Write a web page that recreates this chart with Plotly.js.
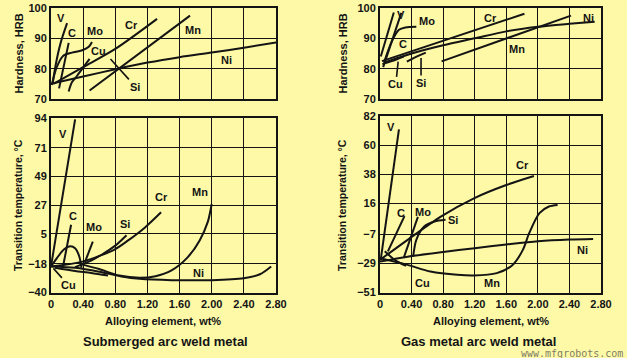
<!DOCTYPE html>
<html>
<head>
<meta charset="utf-8">
<script src="https://cdn.plot.ly/plotly-3.0.1.min.js"></script>
<style>html,body{margin:0;padding:0;background:#fdf9a7;}#chart{width:627px;height:358px;}</style>
</head>
<body>
<div id="chart"></div>
<script>
// ---------- tick labels ----------
const xTickVals = [0, 0.4, 0.8, 1.2, 1.6, 2.0, 2.4, 2.8];
const xTickText = ['0', '0.40', '0.80', '1.20', '1.60', '2.00', '2.40', '2.80'];
const hrbTickVals = [70, 80, 90, 100];
const sawTempTickVals = [-40, -18, 5, 27, 49, 71, 94];
const gmaTempTickVals = [-51, -29, -7, 16, 38, 60, 82];

// ---------- Submerged arc: hardness (HRB) ----------
const sawHrbVx = [0.02, 0.06, 0.12, 0.2],  sawHrbVy = [75, 81.5, 88.5, 95];
const sawHrbCx = [0.1, 0.22],              sawHrbCy = [73.5, 88.5];
const sawHrbMox = [0.01, 0.07, 0.15, 0.26, 0.38, 0.47, 0.51], sawHrbMoy = [74.6, 80.4, 84.2, 85.3, 86.0, 87.2, 88.8];
const sawHrbCux = [0.22, 0.26, 0.32, 0.48], sawHrbCuy = [72.5, 75.5, 77.5, 83.2];
const sawHrbCrx = [0.03, 0.4, 0.8, 1.32],  sawHrbCry = [75, 80.5, 86.5, 96.4];
const sawHrbMnx = [0.48, 1.73],            sawHrbMny = [72.8, 97.5];
const sawHrbNix = [0, 0.4, 0.8, 1.2, 1.6, 2.0, 2.4, 2.8], sawHrbNiy = [75, 77.4, 79.8, 82, 83.8, 85.3, 86.9, 88.6];

// ---------- Submerged arc: transition temperature (°C) ----------
const sawTtVx = [0, 0.3],                   sawTtVy = [-20, 93];
const sawTtCx = [0.15, 0.25],               sawTtCy = [-20, 12];
const sawTtC2x = [0, 0.08, 0.16, 0.24, 0.3, 0.35, 0.38], sawTtC2y = [-20, -13, -7, -4.5, -6, -12, -21];
const sawTtCux = [0.05, 0.3, 0.5, 0.71],    sawTtCuy = [-21, -23.5, -25, -27];
const sawTtMox = [0.42, 0.52],              sawTtMoy = [-17, -1];
const sawTtSix = [0.3, 0.5, 0.63, 0.8, 0.94], sawTtSiy = [-20.5, -15.5, -11, -4, 4];
const sawTtCrx = [0, 0.38, 0.79, 0.96, 1.17, 1.37], sawTtCry = [-20, -16.5, -7, 0, 10, 21.6];
const sawTtMnx = [0.36, 0.6, 0.85, 1.1, 1.3, 1.5, 1.7, 1.85, 1.95, 2.0], sawTtMny = [-18, -22, -27, -28.7, -27.5, -23, -13, 0, 14, 28];
const sawTtNix = [0, 0.3, 0.6, 0.9, 1.1, 1.5, 2.0, 2.4, 2.6, 2.74], sawTtNiy = [-20, -21, -24, -28, -29.5, -30.5, -30.5, -29, -26, -20];

// ---------- Gas metal arc: hardness (HRB) ----------
const gmaHrbVx = [0.01, 0.175],            gmaHrbVy = [84, 98.5];
const gmaHrbCx = [0.04, 0.27],             gmaHrbCy = [80.5, 98.4];
const gmaHrbMox = [0.05, 0.15, 0.24, 0.32, 0.46], gmaHrbMoy = [82, 89, 92.8, 93.6, 93.8];
const gmaHrbCrx = [0.025, 1.83],           gmaHrbCry = [82.5, 98.1];
const gmaHrbNix = [0.05, 0.4, 0.8, 1.2, 1.6, 2.0, 2.4, 2.72], gmaHrbNiy = [82, 85, 87.7, 90, 92.3, 93.8, 94.8, 95.5];
const gmaHrbMnx = [0.78, 2.42],            gmaHrbMny = [82.4, 97.5];
const gmaHrbSix = [0.34, 0.45, 0.58],      gmaHrbSiy = [82.3, 83.8, 85.3];
const gmaHrbCux = [0.03, 0.15, 0.3],       gmaHrbCuy = [81.5, 82.5, 84];

// ---------- Gas metal arc: transition temperature (°C) ----------
const gmaTtVx = [0.01, 0.24],              gmaTtVy = [-26, 72];
const gmaTtCx = [0.1, 0.31],               gmaTtCy = [-20, 6.5];
const gmaTtMox = [0.3, 0.48],              gmaTtMoy = [-25, 6];
const gmaTtSix = [0.42, 0.46, 0.56, 0.69, 0.83], gmaTtSiy = [-24, -11.3, -1.3, 2.5, 3.8];
const gmaTtCrx = [0, 0.35, 0.77, 1.19, 1.6, 1.95], gmaTtCry = [-26.4, -11.3, 6.2, 20, 30, 36.8];
const gmaTtMnx = [0, 0.35, 0.64, 0.98, 1.19, 1.48, 1.68, 1.81, 1.89, 2.02, 2.14, 2.25];
const gmaTtMny = [-25.2, -30.2, -35.2, -37.7, -38.2, -36.4, -30.2, -18.9, -6.3, 8.8, 13.8, 15];
const gmaTtNix = [0, 0.35, 0.8, 1.2, 1.6, 2.0, 2.4, 2.7], gmaTtNiy = [-27.7, -24, -20.5, -17.6, -14.8, -12.3, -11, -10.6];
const gmaTtCux = [0.06, 0.2, 0.33],        gmaTtCuy = [-20, -27, -31];

// ---------- build traces ----------
const INK = '#141414';
function line(x, y, xa, ya, name, smooth) {
  return {x: x, y: y, xaxis: xa, yaxis: ya, name: name, type: 'scatter', mode: 'lines',
          line: {color: INK, width: 2, shape: smooth ? 'spline' : 'linear', smoothing: 0.8},
          hoverinfo: 'skip', showlegend: false};
}
const traces = [
  line(sawHrbVx, sawHrbVy, 'x', 'y', 'V', true),
  line(sawHrbCx, sawHrbCy, 'x', 'y', 'C'),
  line(sawHrbMox, sawHrbMoy, 'x', 'y', 'Mo', true),
  line(sawHrbCux, sawHrbCuy, 'x', 'y', 'Cu', true),
  line(sawHrbCrx, sawHrbCry, 'x', 'y', 'Cr', true),
  line(sawHrbMnx, sawHrbMny, 'x', 'y', 'Mn'),
  line(sawHrbNix, sawHrbNiy, 'x', 'y', 'Ni', true),

  line(sawTtVx, sawTtVy, 'x2', 'y2', 'V'),
  line(sawTtCx, sawTtCy, 'x2', 'y2', 'C'),
  line(sawTtC2x, sawTtC2y, 'x2', 'y2', 'C', true),
  line(sawTtCux, sawTtCuy, 'x2', 'y2', 'Cu', true),
  line(sawTtMox, sawTtMoy, 'x2', 'y2', 'Mo'),
  line(sawTtSix, sawTtSiy, 'x2', 'y2', 'Si', true),
  line(sawTtCrx, sawTtCry, 'x2', 'y2', 'Cr', true),
  line(sawTtMnx, sawTtMny, 'x2', 'y2', 'Mn', true),
  line(sawTtNix, sawTtNiy, 'x2', 'y2', 'Ni', true),

  line(gmaHrbVx, gmaHrbVy, 'x3', 'y3', 'V'),
  line(gmaHrbCx, gmaHrbCy, 'x3', 'y3', 'C'),
  line(gmaHrbMox, gmaHrbMoy, 'x3', 'y3', 'Mo', true),
  line(gmaHrbCrx, gmaHrbCry, 'x3', 'y3', 'Cr'),
  line(gmaHrbNix, gmaHrbNiy, 'x3', 'y3', 'Ni', true),
  line(gmaHrbMnx, gmaHrbMny, 'x3', 'y3', 'Mn'),
  line(gmaHrbSix, gmaHrbSiy, 'x3', 'y3', 'Si', true),
  line(gmaHrbCux, gmaHrbCuy, 'x3', 'y3', 'Cu', true),

  line(gmaTtVx, gmaTtVy, 'x4', 'y4', 'V'),
  line(gmaTtCx, gmaTtCy, 'x4', 'y4', 'C'),
  line(gmaTtMox, gmaTtMoy, 'x4', 'y4', 'Mo'),
  line(gmaTtSix, gmaTtSiy, 'x4', 'y4', 'Si', true),
  line(gmaTtCrx, gmaTtCry, 'x4', 'y4', 'Cr', true),
  line(gmaTtMnx, gmaTtMny, 'x4', 'y4', 'Mn', true),
  line(gmaTtNix, gmaTtNiy, 'x4', 'y4', 'Ni', true),
  line(gmaTtCux, gmaTtCuy, 'x4', 'y4', 'Cu', true)
];

// ---------- layout ----------
const FONT = 'Liberation Sans, Arial, Helvetica, sans-serif';
const tickFont = {family: FONT, size: 11, color: INK, weight: 'bold'};
function xAx(domain, labels, anchor) {
  return {domain: domain, range: [0, 2.8], anchor: anchor, tickmode: 'array', tickvals: xTickVals,
          ticktext: xTickText, showticklabels: labels, ticks: '', showgrid: true, gridcolor: INK,
          gridwidth: 1, zeroline: false, showline: true, linecolor: INK, linewidth: 2, mirror: true,
          tickfont: tickFont, fixedrange: true};
}
function yAx(domain, range, vals, anchor) {
  return {domain: domain, range: range, anchor: anchor, tickmode: 'array', tickvals: vals,
          ticktext: vals.map(v => String(v).replace('-', '\u2212')), ticks: '', showgrid: true,
          gridcolor: INK, gridwidth: 1, zeroline: false, showline: true, linecolor: INK,
          linewidth: 2, mirror: true, tickfont: tickFont, fixedrange: true};
}
const LX = [51/627, 276/627], RX = [380/627, 601/627];
const TOPY = [1 - 99/358, 1 - 8/358];
const BOTL = [1 - 292.5/358, 1 - 118/358], BOTR = [1 - 292.5/358, 1 - 116/358];

function lab(text, x, y, xr, yr) {
  return {text: text, x: x, y: y, xref: xr, yref: yr, showarrow: false,
          font: {family: FONT, size: 11, color: INK, weight: 'bold'}};
}
function leader(text, x, y, ax, ay, xr, yr) {
  return {text: text, x: x, y: y, ax: ax, ay: ay, xref: xr, yref: yr, axref: xr, ayref: yr,
          showarrow: true, arrowhead: 0, arrowwidth: 1.6, arrowcolor: INK, standoff: 0,
          font: {family: FONT, size: 11, color: INK, weight: 'bold'}};
}
function ptxt(text, x, y, size, angle, extra) {
  return Object.assign({text: text, x: x, y: y, xref: 'paper', yref: 'paper', showarrow: false,
          textangle: angle || 0, xanchor: 'center', yanchor: 'middle',
          font: {family: FONT, size: size, color: INK, weight: 'bold'}}, extra || {});
}

const annotations = [
  // SAW hardness
  lab('V', 0.13, 96.7, 'x', 'y'), lab('C', 0.26, 91.7, 'x', 'y'), lab('Mo', 0.55, 92.3, 'x', 'y'),
  lab('Cu', 0.59, 85.7, 'x', 'y'), lab('Cr', 1.0, 94.5, 'x', 'y'), lab('Mn', 1.77, 92.8, 'x', 'y'),
  lab('Ni', 2.19, 82.9, 'x', 'y'),
  leader('Si', 0.74, 83.2, 1.05, 74.1, 'x', 'y'),
  // SAW transition
  lab('V', 0.15, 82, 'x2', 'y2'), lab('C', 0.27, 19, 'x2', 'y2'), lab('Mo', 0.54, 10, 'x2', 'y2'),
  lab('Si', 0.92, 12.6, 'x2', 'y2'), lab('Cr', 1.38, 33, 'x2', 'y2'), lab('Mn', 1.86, 37, 'x2', 'y2'),
  lab('Ni', 1.83, -24.7, 'x2', 'y2'),
  leader('Cu', 0.03, -21.5, 0.22, -34.5, 'x2', 'y2'),
  // GMA hardness
  lab('V', 0.27, 97.6, 'x3', 'y3'), lab('Mo', 0.6, 95.7, 'x3', 'y3'), lab('C', 0.29, 88, 'x3', 'y3'),
  lab('Cr', 1.4, 96.7, 'x3', 'y3'), lab('Ni', 2.64, 96.7, 'x3', 'y3'), lab('Mn', 1.74, 86.4, 'x3', 'y3'),
  leader('Cu', 0.23, 82.3, 0.2, 74.8, 'x3', 'y3'),
  leader('Si', 0.52, 83.5, 0.52, 75.3, 'x3', 'y3'),
  // GMA transition
  lab('V', 0.14, 74, 'x4', 'y4'), lab('C', 0.27, 9, 'x4', 'y4'), lab('Mo', 0.55, 10, 'x4', 'y4'),
  lab('Si', 0.92, 3.7, 'x4', 'y4'), lab('Cr', 1.81, 45, 'x4', 'y4'), lab('Ni', 2.57, -19, 'x4', 'y4'),
  lab('Mn', 1.42, -44, 'x4', 'y4'), lab('Cu', 0.54, -44, 'x4', 'y4'),
  // axis titles
  ptxt('Hardness, HRB', 18/627, 1 - 53.5/358, 11, -90),
  ptxt('Transition temperature, \u00b0C', 18/627, 1 - 205/358, 10.5, -90),
  ptxt('Hardness, HRB', 342/627, 1 - 53.5/358, 11, -90),
  ptxt('Transition temperature, \u00b0C', 342/627, 1 - 205/358, 10.5, -90),
  ptxt('Alloying element, wt%', 163/627, 1 - 321/358, 11, 0),
  ptxt('Alloying element, wt%', 491/627, 1 - 321/358, 11, 0),
  ptxt('Submerged arc weld metal', 166/627, 1 - 341/358, 13, 0),
  ptxt('Gas metal arc weld metal', 478/627, 1 - 341/358, 13, 0),
  ptxt('www.mfgrobots.com', 572/627, 1 - 353/358, 10, 0,
       {font: {family: 'DejaVu Sans Mono, monospace', size: 10, color: 'rgba(80,80,80,0.75)'}})
];

const layout = {
  width: 627, height: 358, margin: {l: 0, r: 0, t: 0, b: 0},
  paper_bgcolor: '#fdf9a7', plot_bgcolor: '#fdf9a7', showlegend: false,
  xaxis: xAx(LX, false, 'y'), yaxis: yAx(TOPY, [70, 100], hrbTickVals, 'x'),
  xaxis2: xAx(LX, true, 'y2'), yaxis2: yAx(BOTL, [-40, 94], sawTempTickVals, 'x2'),
  xaxis3: xAx(RX, false, 'y3'), yaxis3: yAx(TOPY, [70, 100], hrbTickVals, 'x3'),
  xaxis4: xAx(RX, true, 'y4'), yaxis4: yAx(BOTR, [-51, 82], gmaTempTickVals, 'x4'),
  annotations: annotations
};

Plotly.newPlot('chart', traces, layout, {staticPlot: true, displayModeBar: false});
</script>
</body>
</html>
